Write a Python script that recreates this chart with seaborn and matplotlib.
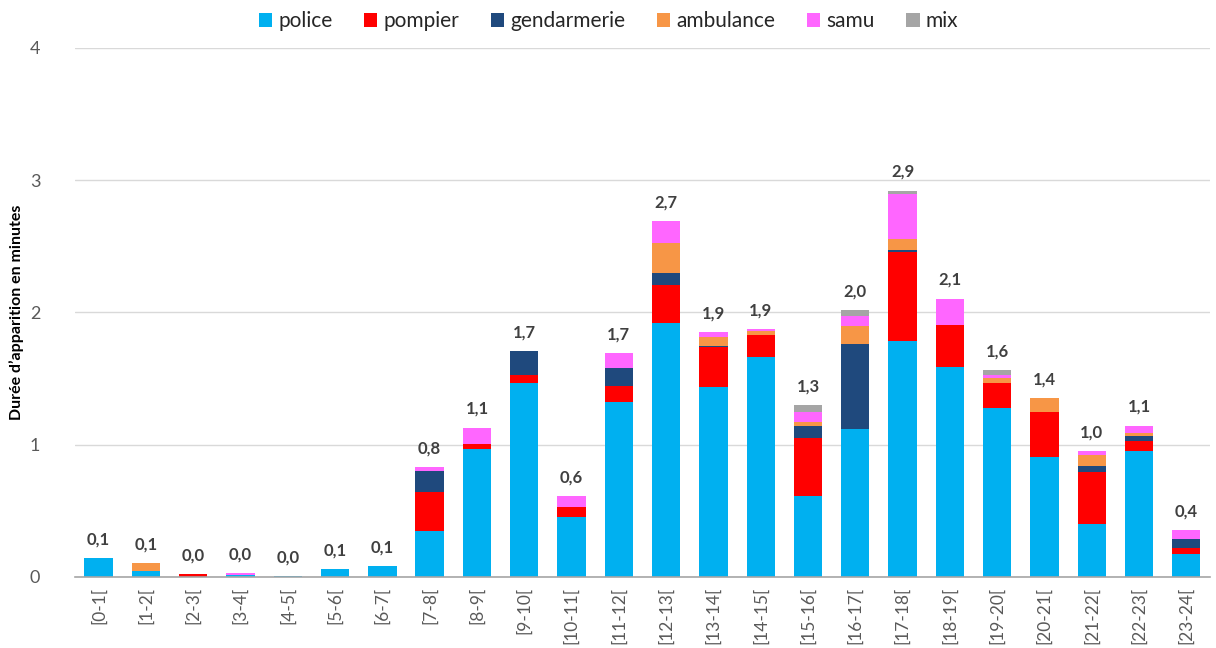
import numpy as np
import pandas as pd
import matplotlib.pyplot as plt
import seaborn as sns

hours = ['[0-1[', '[1-2[', '[2-3[', '[3-4[', '[4-5[', '[5-6[', '[6-7[', '[7-8[',
         '[8-9[', '[9-10[', '[10-11[', '[11-12[', '[12-13[', '[13-14[', '[14-15[',
         '[15-16[', '[16-17[', '[17-18[', '[18-19[', '[19-20[', '[20-21[', '[21-22[',
         '[22-23[', '[23-24[']

police = [0.14, 0.045, 0.0, 0.015, 0.01, 0.058, 0.086, 0.35, 0.97, 1.47, 0.45, 1.32,
          1.92, 1.44, 1.66, 0.61, 1.12, 1.785, 1.59, 1.275, 0.91, 0.40, 0.95, 0.17]
pompier = [0.0, 0.0, 0.02, 0.0, 0.0, 0.0, 0.0, 0.29, 0.035, 0.06, 0.08, 0.125,
           0.29, 0.30, 0.17, 0.44, 0.0, 0.67, 0.315, 0.19, 0.335, 0.39, 0.08, 0.05]
gendarmerie = [0.0, 0.0, 0.0, 0.0, 0.0, 0.0, 0.0, 0.16, 0.0, 0.18, 0.0, 0.135,
               0.09, 0.005, 0.0, 0.09, 0.645, 0.017, 0.0, 0.0, 0.0, 0.05, 0.035, 0.065]
ambulance = [0.0, 0.06, 0.0, 0.0, 0.0, 0.0, 0.0, 0.0, 0.0, 0.0, 0.0, 0.0,
             0.225, 0.07, 0.03, 0.03, 0.135, 0.08, 0.0, 0.04, 0.105, 0.08, 0.02, 0.0]
samu = [0.0, 0.0, 0.0, 0.013, 0.0, 0.0, 0.0, 0.03, 0.125, 0.0, 0.08, 0.11,
        0.165, 0.035, 0.017, 0.08, 0.07, 0.34, 0.2, 0.02, 0.0, 0.035, 0.06, 0.07]
mix = [0.0, 0.0, 0.0, 0.0, 0.0, 0.0, 0.0, 0.0, 0.0, 0.0, 0.0, 0.0,
       0.0, 0.0, 0.0, 0.05, 0.05, 0.03, 0.0, 0.04, 0.0, 0.0, 0.0, 0.0]

total_labels = ['0,1', '0,1', '0,0', '0,0', '0,0', '0,1', '0,1', '0,8', '1,1', '1,7',
                '0,6', '1,7', '2,7', '1,9', '1,9', '1,3', '2,0', '2,9', '2,1', '1,6',
                '1,4', '1,0', '1,1', '0,4']

series = {'police': police, 'pompier': pompier, 'gendarmerie': gendarmerie,
          'ambulance': ambulance, 'samu': samu, 'mix': mix}
colors = {'police': '#00B0F0', 'pompier': '#FF0000', 'gendarmerie': '#1F497D',
          'ambulance': '#F79646', 'samu': '#FF66FF', 'mix': '#A5A5A5'}

sns.set_style('white')
plt.rcParams['font.family'] = ['Lato', 'DejaVu Sans']

fig = plt.figure(figsize=(12.16, 6.48), dpi=100)
ax = fig.add_axes([0.0617, 0.1096, 0.9333, 0.8164])

bottom = np.zeros(len(hours))
for name, vals in series.items():
    df = pd.DataFrame({'heure': hours, 'val': vals})
    sns.barplot(data=df, x='heure', y='val', color=colors[name], saturation=1,
                width=0.6, bottom=bottom, label=name, ax=ax, linewidth=0)
    bottom = bottom + np.array(vals)

for i, lab in enumerate(total_labels):
    ax.text(i, bottom[i] + 0.08, lab, ha='center', va='bottom', fontsize=12,
            fontweight='bold', color='#404040')

ax.set_ylim(0, 4)
ax.set_xlim(-0.5, len(hours) - 0.5)
ax.set_yticks([0, 1, 2, 3, 4])
ax.yaxis.grid(True, color='#D9D9D9', linewidth=1)
ax.set_axisbelow(True)
for s in ['top', 'right', 'left']:
    ax.spines[s].set_visible(False)
ax.spines['bottom'].set_color('#A6A6A6')
ax.spines['bottom'].set_linewidth(1.2)

ax.set_xticks(np.arange(len(hours)))
ax.set_xticklabels(hours, rotation=90, fontsize=12.5, color='#595959')
ax.set_xticks(np.arange(-0.5, len(hours)), minor=True)
ax.tick_params(axis='x', which='major', length=0, pad=7)
ax.tick_params(axis='x', which='minor', length=5, color='#A6A6A6', width=1)
ax.tick_params(axis='y', length=0, labelsize=13, labelcolor='#595959', pad=25)

ax.set_xlabel('')
ax.set_ylabel("Durée d’apparition en minutes", fontsize=11.5, fontweight='bold',
              color='black', labelpad=4)

ax.legend(loc='upper center', bbox_to_anchor=(0.47, 1.105), ncol=6, frameon=False,
          fontsize=15, handlelength=0.65, handleheight=0.65, handletextpad=0.3,
          columnspacing=1.5)

fig.savefig('out.png', dpi=100)
